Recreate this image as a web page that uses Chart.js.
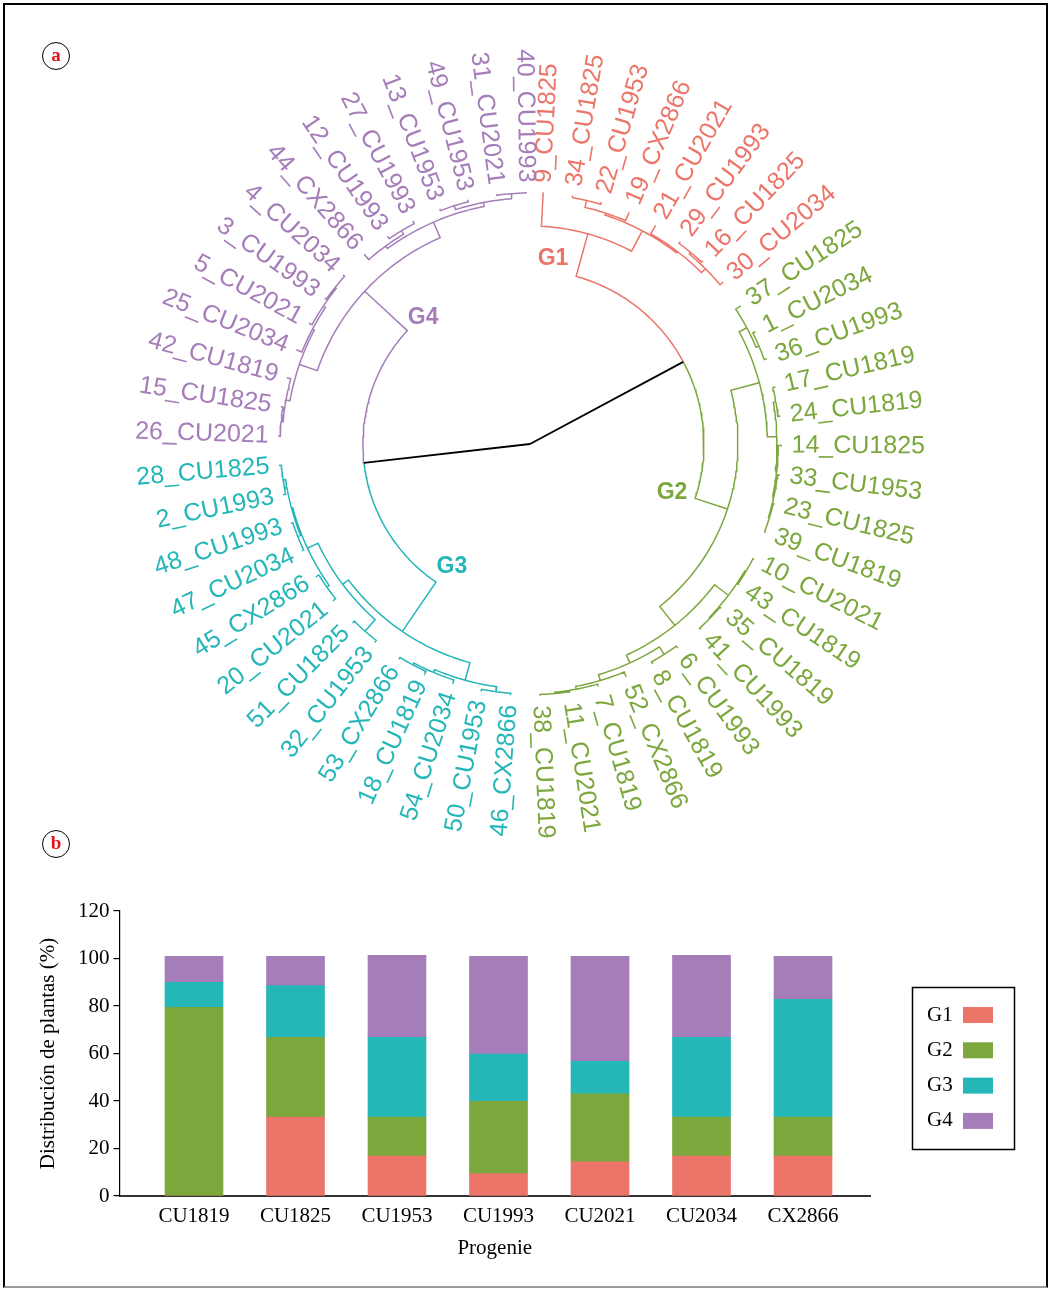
<!DOCTYPE html>
<html>
<head>
<meta charset="utf-8">
<script src="https://cdn.jsdelivr.net/npm/chart.js@4.4.1/dist/chart.umd.min.js"></script>
<style>
  html, body { margin: 0; padding: 0; background: #fff; }
  #page { position: relative; width: 1051px; height: 1289px; overflow: hidden; background: #fff; }
  #frame { position: absolute; left: 3px; top: 3px; width: 1041px; height: 1281px;
           border: 2px solid #000; border-bottom-color: #9a9a9a; }
  #tree { position: absolute; left: 0; top: 0; }
  #bars { position: absolute; left: 0; top: 880px; }
  .panel { position: absolute; width: 26px; height: 26px; border: 1.5px solid #000; border-radius: 50%;
           color: #e3141c; font: bold 19px "Liberation Serif", "Times New Roman", serif;
           text-align: center; line-height: 24px; }
</style>
</head>
<body>
<div id="page">
  <canvas id="tree" width="1051" height="870"></canvas>
  <canvas id="bars" width="1051" height="409"></canvas>
  <div id="frame"></div>
  <div class="panel" style="left:42px; top:42px;">a</div>
  <div class="panel" style="left:42px; top:830px;">b</div>
</div>
<script>
/* ---------- cluster tree (depth from root, tips at 1) ---------- */
// each node: [depth, child, child]; strings are the plants
const g1Tree = [0.865, "9_CU1825",
  [0.956,
    [0.964, [0.992, "34_CU1825", "22_CU1953"], "19_CX2866"],
    [0.962, "21_CU2021", [0.984, [0.992, "29_CU1993", "16_CU1825"], "30_CU2034"]]]];
const g2Tree = [0.825,
  [0.942,
    [0.976, "37_CU1825", [0.988, "1_CU2034", "36_CU1993"]],
    [0.980, [0.990, "17_CU1819", "24_CU1819"],
            [0.985, "14_CU1825", [0.990, "33_CU1953", [0.994, "23_CU1825", "39_CU1819"]]]]],
  [0.921,
    [0.990, [0.995, "10_CU2021", "43_CU1819"], [0.994, "35_CU1819", "41_CU1993"]],
    [0.955, [0.990, "6_CU1993", "8_CU1819"],
            [0.979, "52_CX2866", [0.990, "7_CU1819", [0.995, "11_CU2021", "38_CU1819"]]]]]];
const g3Tree = [0.900,
  [0.972, [0.992, "46_CX2866", "50_CU1953"], [0.984, "54_CU2034", [0.992, "18_CU1819", "53_CX2866"]]],
  [0.929, [0.990, "32_CU1953", "51_CU1825"],
    [0.975, [0.986, "20_CU2021", "45_CX2866"],
            [0.980, [0.992, "47_CU2034", "48_CU1993"], [0.990, "2_CU1993", "28_CU1825"]]]]];
const g4Tree = [0.893,
  [0.968, [0.984, [0.992, "26_CU2021", "15_CU1825"], "42_CU1819"],
          [0.976, "25_CU2034", [0.986, "5_CU2021", [0.992, "3_CU1993", "4_CU2034"]]]],
  [0.960, [0.972, "44_CX2866", [0.988, "12_CU1993", "27_CU1993"]],
          [0.976, [0.992, "13_CU1953", "49_CU1953"], [0.996, "31_CU2021", "40_CU1993"]]]];
const g12Depth = 0.690;
const g34Depth = 0.663;

const groupNames = ["G1", "G2", "G3", "G4"];
const groupColors = ["#ec7569", "#7ca73d", "#25b6b8", "#a57db9"];

/* ---------- stacked bars ---------- */
const progenies = ["CU1819", "CU1825", "CU1953", "CU1993", "CU2021", "CU2034", "CX2866"];
const g1Share = [0, 33.2, 16.8, 9.4, 14.4, 16.8, 16.8];
const g2Share = [79.4, 33.6, 16.4, 30.5, 28.6, 16.4, 16.4];
const g3Share = [10.6, 21.8, 33.6, 19.9, 13.7, 33.6, 49.6];
const g4Share = [10.9, 12.3, 34.5, 41.1, 44.2, 34.5, 18.1];
const yTicks = [0, 20, 40, 60, 80, 100, 120];

/* ---------- tree layout ---------- */
const R_PX = 252;               // pixels per unit of depth
const CENTER = { x: 530, y: 444 };
const TIP_START = 273.0;        // degrees, clockwise from 3 o'clock
const TIP_STEP = 6.72;
const LABEL_R = 1.038;
const TIP_FONT = 25;
const groupLabelAt = { G1: [277.1, 0.740], G2: [19.0, 0.596], G3: [122.4, 0.578], G4: [229.7, 0.656] };

const rad = d => d * Math.PI / 180;
const toXY = (r, deg) => ({ x: r * Math.cos(rad(deg)), y: r * Math.sin(rad(deg)) });

const colorOf = new Map([[g1Tree, groupColors[0]], [g2Tree, groupColors[1]], [g3Tree, groupColors[2]], [g4Tree, groupColors[3]]]);
const fullTree = [0, [g12Depth, g1Tree, g2Tree], [g34Depth, g3Tree, g4Tree]];

const tips = [];
function layout(node, counter) {
  if (typeof node === "string") {
    const t = { name: node, depth: 1, angle: TIP_START + TIP_STEP * counter.k++, kids: [] };
    tips.push(t);
    return t;
  }
  const [depth, ...rest] = node;
  const kids = rest.map(k => layout(k, counter));
  return { src: node, depth, kids, angle: kids.reduce((s, k) => s + k.angle, 0) / kids.length };
}
const root = layout(fullTree, { k: 0 });

// one polyline per edge: arc at the parent's depth, then out to the child
const buckets = new Map();
function edges(node, color) {
  node.kids.forEach(kid => {
    const c = colorOf.get(kid.src) || color;
    if (!buckets.has(c)) buckets.set(c, []);
    const pts = buckets.get(c);
    if (node.depth > 0) {
      const n = Math.max(1, Math.ceil(Math.abs(kid.angle - node.angle)));
      for (let i = 0; i <= n; i++) pts.push(toXY(node.depth, node.angle + (kid.angle - node.angle) * i / n));
    } else {
      pts.push({ x: 0, y: 0 });
    }
    pts.push(toXY(kid.depth, kid.angle));
    pts.push({ x: null, y: null });
    if (kid.name) kid.color = c;
    edges(kid, c);
  });
}
edges(root, "#000000");

const tipLabels = {
  id: "tipLabels",
  afterDatasetsDraw(chart) {
    const { ctx, scales: { x, y } } = chart;
    ctx.save();
    ctx.textBaseline = "middle";
    ctx.font = TIP_FONT + 'px "Liberation Sans", Arial, sans-serif';
    tips.forEach(t => {
      const p = toXY(LABEL_R, t.angle);
      const a = ((t.angle % 360) + 360) % 360;
      const flip = a > 90 && a < 270;
      ctx.save();
      ctx.translate(x.getPixelForValue(p.x), y.getPixelForValue(p.y));
      ctx.rotate(rad(flip ? a + 180 : a));
      ctx.textAlign = flip ? "right" : "left";
      ctx.fillStyle = t.color;
      ctx.fillText(t.name, 0, 0);
      ctx.restore();
    });
    ctx.font = 'bold 23px "Liberation Sans", Arial, sans-serif';
    ctx.textAlign = "center";
    groupNames.forEach((g, i) => {
      const [ang, r] = groupLabelAt[g];
      const p = toXY(r, ang);
      ctx.fillStyle = groupColors[i];
      ctx.fillText(g, x.getPixelForValue(p.x), y.getPixelForValue(p.y));
    });
    ctx.restore();
  }
};

const treeCanvas = document.getElementById("tree");
new Chart(treeCanvas, {
  type: "scatter",
  data: {
    datasets: [...buckets.entries()].map(([color, pts]) => ({
      data: pts,
      showLine: true,
      borderColor: color,
      borderWidth: color === "#000000" ? 1.8 : 1.5,
      pointRadius: 0,
      spanGaps: false,
      tension: 0
    }))
  },
  options: {
    responsive: false,
    animation: false,
    events: [],
    layout: { padding: 0 },
    plugins: { legend: { display: false }, tooltip: { enabled: false } },
    scales: {
      x: { type: "linear", display: false, min: -CENTER.x / R_PX, max: (treeCanvas.width - CENTER.x) / R_PX },
      y: { type: "linear", display: false, reverse: true, min: -CENTER.y / R_PX, max: (treeCanvas.height - CENTER.y) / R_PX }
    }
  },
  plugins: [tipLabels]
});

/* ---------- bar chart ---------- */
const serif = '"Liberation Serif", "Times New Roman", serif';

const boxLegend = {
  id: "boxLegend",
  afterDraw(chart) {
    const { ctx } = chart;
    ctx.save();
    ctx.strokeStyle = "#000";
    ctx.lineWidth = 1.5;
    ctx.strokeRect(912.5, 107.5, 102, 162);
    ctx.font = "21px " + serif;
    ctx.textBaseline = "middle";
    ctx.textAlign = "left";
    chart.data.datasets.forEach((ds, i) => {
      const cy = 135 + i * 35.3;
      ctx.fillStyle = "#000";
      ctx.fillText(ds.label, 927, cy);
      ctx.fillStyle = ds.backgroundColor;
      ctx.fillRect(963, cy - 8, 30, 16);
    });
    ctx.restore();
  }
};

const shares = [g1Share, g2Share, g3Share, g4Share];
new Chart(document.getElementById("bars"), {
  type: "bar",
  data: {
    datasets: shares.map((vals, i) => ({
      label: groupNames[i],
      data: vals.map((v, k) => ({ x: k, y: v })),
      backgroundColor: groupColors[i],
      borderWidth: 0,
      barThickness: 58
    }))
  },
  options: {
    responsive: false,
    animation: false,
    events: [],
    layout: { padding: { left: 0, right: 181, top: 31, bottom: 0 } },
    plugins: { legend: { display: false }, tooltip: { enabled: false } },
    scales: {
      x: {
        type: "linear",
        stacked: true,
        offset: false,
        min: -0.734,
        max: 6.66,
        afterBuildTicks: s => { s.ticks = progenies.map((_, i) => ({ value: i })); },
        afterFit: s => { s.height = 93; },
        grid: { display: false, drawTicks: false },
        border: { display: true, color: "#333", width: 2 },
        ticks: { callback: v => progenies[v], color: "#000", font: { family: serif, size: 21 }, padding: 8, maxRotation: 0, autoSkip: false },
        title: { display: true, text: "Progenie", color: "#000", font: { family: serif, size: 21 }, padding: { bottom: 28 } }
      },
      y: {
        stacked: true,
        min: 0,
        max: 120,
        afterBuildTicks: s => { s.ticks = yTicks.map(v => ({ value: v })); },
        afterFit: s => { s.width = 119.5; },
        grid: { display: true, drawOnChartArea: false, drawTicks: true, tickLength: 6, color: "#000", lineWidth: 1.2 },
        border: { display: true, color: "#000", width: 1.2 },
        ticks: { color: "#000", font: { family: serif, size: 21 }, padding: 4 },
        title: { display: true, text: "Distribución de plantas (%)", color: "#000", font: { family: serif, size: 21 }, padding: { top: 36 } }
      }
    }
  },
  plugins: [boxLegend]
});
</script>
</body>
</html>
